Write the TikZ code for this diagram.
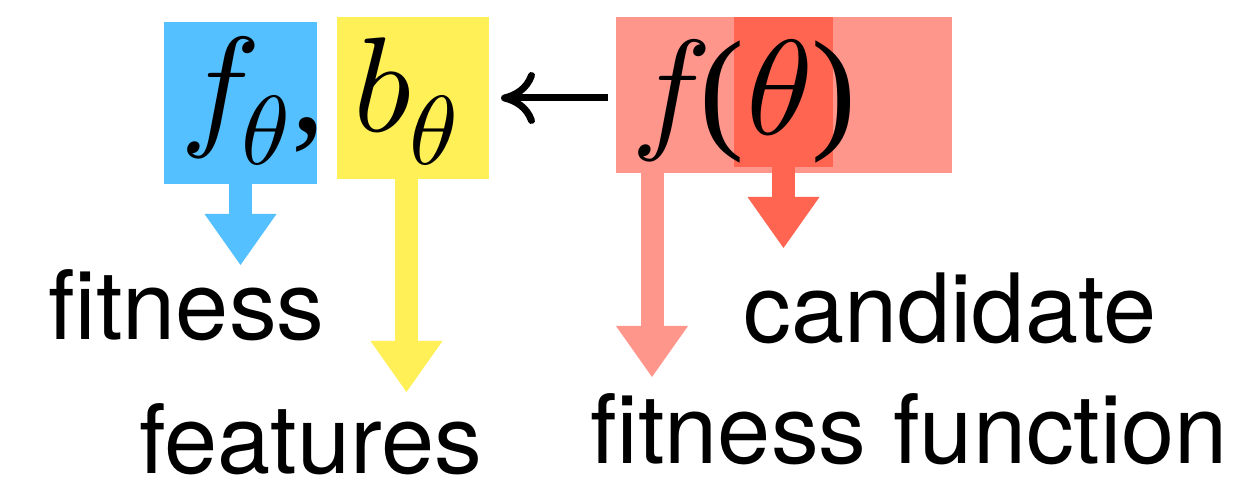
\documentclass[tikz,border=0pt]{standalone}
\usepackage{graphicx}
\usepackage{fontspec}
\setmainfont{TeX Gyre Heros}
\newfontfamily\tms{Liberation Serif}
\usetikzlibrary{arrows.meta}
\definecolor{cblue}{RGB}{85,192,255}
\definecolor{cyellow}{RGB}{255,240,87}
\definecolor{cpink}{RGB}{255,150,140}
\definecolor{cred}{RGB}{255,101,80}
\newcommand{\mymain}[1]{\scalebox{6.75}{$#1$}}
\newcommand{\mysub}[1]{\raisebox{-16.5pt}{\scalebox{4.9}{$#1$}}}
\newcommand{\mytms}[1]{{\tms\fontsize{67.5}{80}\selectfont #1}}
\tikzset{
  box/.style={fill=#1, draw=none, inner sep=0pt, outer sep=0pt},
  blockarrow/.style={draw=#1, line width=11.5pt,
    -{Triangle[length=25.5pt,width=36pt,line width=0pt,fill=#1]}},
  lbl/.style={anchor=base west, inner sep=0pt, font=\fontsize{47.8}{56}\selectfont},
  mth/.style={anchor=base west, inner sep=0pt},
  larrow/.style={draw=black, line width=3.5pt, -{To[length=17pt,width=26pt]}}
}
\begin{document}
\begin{tikzpicture}[x=0.5pt,y=-0.5pt]
\useasboundingbox (0,0) rectangle (1241,480);
% boxes
\node[box=cblue, minimum width=76.5pt, minimum height=81pt] (bbox) at (240.5,103) {};
\node[box=cyellow, minimum width=76pt, minimum height=81pt] (ybox) at (413,98) {};
\node[box=cpink, minimum width=168pt, minimum height=78pt] (pbox) at (784,95) {};
\node[box=cred, minimum width=49.5pt, minimum height=75pt] (rbox) at (783.5,92) {};
% formulas
\node[mth] (ftheta) at (180,132) {\mymain{f}\kern-10pt\mysub{\theta}\kern1pt\mytms{,}};
\node[mth] (btheta) at (353,132) {\mymain{b}\kern-1pt\mysub{\theta}};
\node[mth] (ftf) at (631,135) {\mymain{f}\kern-6.5pt\mytms{(}\kern1.5pt\mymain{\theta}\kern-1.5pt\mytms{)}};
% tips
\coordinate (btip) at (240.5,265);
\coordinate (ytip) at (406.5,392);
\coordinate (ptip) at (652,377);
\coordinate (rtip) at (783.5,248);
% block arrows
\draw[blockarrow=cblue] (bbox.south -| btip) -- (btip);
\draw[blockarrow=cyellow] (ybox.south -| ytip) -- (ytip);
\draw[blockarrow=cpink] (pbox.south -| ptip) -- (ptip);
\draw[blockarrow=cred] (rbox.south -| rtip) -- (rtip);
% black arrow
\draw[larrow, shorten <=4pt, shorten >=6pt] ([yshift=-1.5pt]pbox.west) -- ([yshift=-1.5pt]pbox.west -| ybox.east);
% labels
\node[lbl] (fitness) at (48,340) {fitness};
\node[lbl] (features) at (139,473) {features};
\node[lbl] (candidate) at (743,343) {candidate};
\node[lbl] (fitfun) at (590,463) {fitness function};
\end{tikzpicture}
\end{document}
